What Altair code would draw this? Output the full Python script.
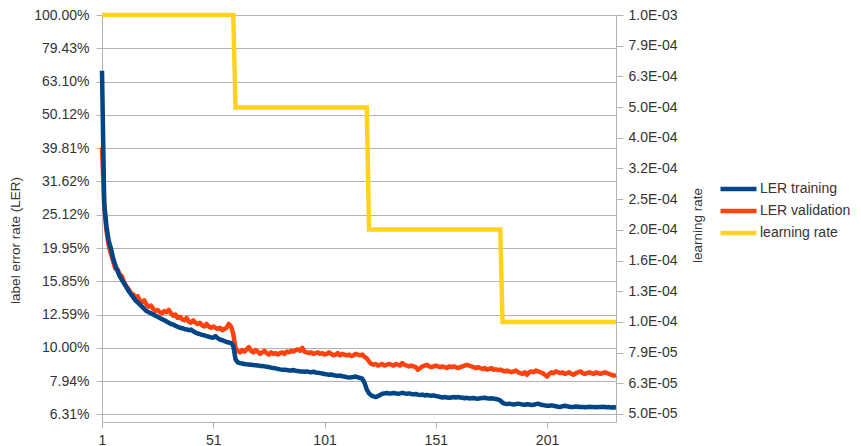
import altair as alt
import pandas as pd

# ---------------- data ----------------
train_pct = [
    68, 27, 23.2, 21.0, 19.9, 18.6, 17.7, 17.0, 16.4, 16.0,
    15.6, 15.2, 14.8, 14.5, 14.2, 13.9, 13.7, 13.5, 13.3, 13.1,
    12.9, 12.8, 12.7, 12.6, 12.5, 12.4, 12.3, 12.2, 12.1, 12.0,
    11.9, 11.8, 11.75, 11.65, 11.58, 11.5, 11.46, 11.4, 11.36, 11.3,
    11.35, 11.22, 11.12, 11.05, 11.0, 10.95, 10.9, 10.85, 10.8, 10.76,
    10.72, 10.85, 10.7, 10.6, 10.55, 10.48, 10.42, 10.38, 10.35, 10.15,
    9.25, 9.05, 9.0, 8.98, 8.95, 8.93, 8.92, 8.9, 8.88, 8.87,
    8.85, 8.83, 8.82, 8.8, 8.78, 8.76, 8.72, 8.7, 8.68, 8.65,
    8.62, 8.6, 8.6, 8.58, 8.56, 8.55, 8.58, 8.54, 8.52, 8.5,
    8.5, 8.48, 8.5, 8.47, 8.45, 8.48, 8.44, 8.42, 8.4, 8.38,
    8.35, 8.33, 8.3, 8.32, 8.28, 8.26, 8.24, 8.26, 8.22, 8.2,
    8.17, 8.15, 8.16, 8.18, 8.2, 8.16, 8.12, 8.08, 7.85, 7.5,
    7.3, 7.2, 7.15, 7.12, 7.16, 7.22, 7.28, 7.3, 7.32, 7.3,
    7.3, 7.32, 7.3, 7.28, 7.3, 7.33, 7.3, 7.28, 7.3, 7.27,
    7.25, 7.27, 7.24, 7.22, 7.24, 7.2, 7.22, 7.2, 7.18, 7.2,
    7.17, 7.15, 7.12, 7.1, 7.12, 7.1, 7.08, 7.1, 7.12, 7.1,
    7.12, 7.1, 7.08, 7.06, 7.08, 7.05, 7.06, 7.07, 7.05, 7.04,
    7.06, 7.07, 7.08, 7.06, 7.05, 7.06, 7.04, 7.02, 7.0, 6.95,
    6.85, 6.8, 6.78, 6.8, 6.78, 6.76, 6.78, 6.8, 6.78, 6.76,
    6.75, 6.77, 6.76, 6.74, 6.75, 6.78, 6.8, 6.76, 6.74, 6.72,
    6.7, 6.7, 6.72, 6.7, 6.68, 6.66, 6.65, 6.68, 6.7, 6.68,
    6.66, 6.64, 6.65, 6.67, 6.66, 6.64, 6.65, 6.63, 6.64, 6.66,
    6.65, 6.64, 6.63, 6.65, 6.64, 6.66, 6.65, 6.63, 6.64, 6.62, 6.63, 6.62,
]

valid_pct = [
    40, 27, 22.5, 20.3, 19.2, 18.2, 17.3, 17.2, 16.6, 16.4,
    15.7, 15.3, 15.0, 14.6, 14.5, 14.2, 14.3, 13.9, 13.7, 13.9,
    13.5, 13.3, 13.4, 13.1, 12.9, 13.0, 12.8, 12.7, 12.9, 12.8,
    13.0, 12.7, 12.5, 12.6, 12.3, 12.4, 12.2, 12.1, 12.3, 12.0,
    11.9, 12.1, 11.9, 11.8, 11.9, 11.7, 11.6, 11.8, 11.6, 11.5,
    11.6, 11.5, 11.4, 11.5, 11.3, 11.4, 11.5, 11.8, 11.6, 11.0,
    10.0, 9.8, 9.7, 9.85, 9.75, 9.9, 10.05, 9.8, 9.7, 9.85,
    9.75, 9.6, 9.7, 9.8, 9.65, 9.55, 9.7, 9.6, 9.65, 9.55,
    9.65, 9.7, 9.6, 9.75, 9.7, 9.8, 9.75, 9.85, 9.9, 9.8,
    10.0, 9.75, 9.7, 9.65, 9.7, 9.6, 9.65, 9.7, 9.6, 9.65,
    9.55, 9.6, 9.7, 9.6, 9.5, 9.55, 9.65, 9.5, 9.6, 9.55,
    9.5, 9.55, 9.45, 9.5, 9.6, 9.55, 9.5, 9.55, 9.4, 9.3,
    9.1, 8.95, 8.9, 8.95, 8.85, 8.9, 8.95, 8.85, 8.9, 8.95,
    8.9, 8.85, 8.95, 8.9, 8.85, 9.0, 8.9, 8.85, 8.8, 8.85,
    8.8, 8.75, 8.6, 8.7, 8.8, 8.85, 8.9, 8.8, 8.75, 8.8,
    8.85, 8.8, 8.75, 8.8, 8.75, 8.7, 8.8, 8.75, 8.8, 8.75,
    8.7, 8.75, 8.8, 8.85, 8.9, 8.85, 8.8, 8.75, 8.7, 8.75,
    8.7, 8.65, 8.7, 8.6, 8.65, 8.7, 8.6, 8.62, 8.58, 8.6,
    8.55, 8.5, 8.55, 8.5, 8.45, 8.5, 8.55, 8.45, 8.4, 8.35,
    8.45, 8.3, 8.45, 8.5, 8.45, 8.55, 8.5, 8.45, 8.4, 8.3,
    8.2, 8.35, 8.45, 8.4, 8.5, 8.45, 8.4, 8.45, 8.35, 8.4,
    8.45, 8.35, 8.3, 8.4, 8.45, 8.5, 8.4, 8.35, 8.4, 8.45,
    8.4, 8.35, 8.45, 8.4, 8.35, 8.4, 8.45, 8.4, 8.35, 8.3, 8.25, 8.3,
]

lr_epochs = [1, 60, 61, 120, 121, 180, 181, 232]
lr_values = [1.0e-3, 1.0e-3, 5.0e-4, 5.0e-4, 2.0e-4, 2.0e-4, 1.0e-4, 1.0e-4]

series_names = ["LER training", "LER validation", "learning rate"]
series_colors = ["#004586", "#ff420e", "#ffd320"]

x_ticks = [1, 51, 101, 151, 201]
ler_ticks = [1.0, 0.7943, 0.6310, 0.5012, 0.3981, 0.3162, 0.2512, 0.1995,
             0.1585, 0.1259, 0.1, 0.07943, 0.06310]
lr_ticks = [1.0e-3, 7.943e-4, 6.310e-4, 5.012e-4, 3.981e-4, 3.162e-4, 2.512e-4,
            1.995e-4, 1.585e-4, 1.259e-4, 1.0e-4, 7.943e-5, 6.310e-5, 5.012e-5]

# ---------------- tables ----------------
df_train = pd.DataFrame({
    "epoch": list(range(1, len(train_pct) + 1)),
    "value": [v / 100 for v in train_pct],
    "series": series_names[0],
})
df_valid = pd.DataFrame({
    "epoch": list(range(1, len(valid_pct) + 1)),
    "value": [v / 100 for v in valid_pct],
    "series": series_names[1],
})
df_lr = pd.DataFrame({"epoch": lr_epochs, "value": lr_values, "series": series_names[2]})

FONT = "Liberation Sans"
TXT = "#333333"
GRID = "#b3b3b3"
LW = 4.5

x_enc = alt.X(
    "epoch:Q",
    scale=alt.Scale(domain=[1, 232], nice=False, zero=False),
    axis=alt.Axis(values=x_ticks, format="d", title=None, grid=False, tickSize=6,
                  labelPadding=5, domainColor=GRID, tickColor=GRID, labelFontSize=14,
                  labelColor=TXT, labelFont=FONT, labelFlush=False, labelOverlap=False),
)

color_enc = alt.Color(
    "series:N",
    scale=alt.Scale(domain=series_names, range=series_colors),
    legend=alt.Legend(title=None, orient="none", legendX=616, legendY=166,
                      symbolType="stroke", symbolSize=1296, symbolStrokeWidth=LW,
                      labelFontSize=14, labelFont=FONT, labelColor=TXT, labelOffset=1,
                      clipHeight=16, rowPadding=6, padding=0),
)

y_ler = alt.Y(
    "value:Q",
    scale=alt.Scale(type="log", domain=[0.0599, 1.0], nice=False),
    axis=alt.Axis(orient="left", values=ler_ticks, format=".2%", grid=True, gridColor=GRID,
                  domainColor=GRID, tickColor=GRID, tickSize=6, labelPadding=7,
                  labelFontSize=14, labelFont=FONT, labelColor=TXT, labelFlush=False,
                  labelOverlap=False, title="label error rate (LER)", titleFont=FONT,
                  titleFontSize=13.5, titleFontWeight="normal", titleColor=TXT,
                  titleAngle=270, titleX=-87, titleY=225, titleAlign="center",
                  titleBaseline="middle"),
)

y_lr = alt.Y(
    "value:Q",
    scale=alt.Scale(type="log", domain=[4.72e-5, 1.0e-3], nice=False),
    axis=alt.Axis(orient="right", values=lr_ticks,
                  labelExpr="replace(format(datum.value, '.1e'), 'e-', 'E-0')",
                  grid=False, domainColor=GRID, tickColor=GRID, tickSize=7, labelPadding=5,
                  labelFontSize=14, labelFont=FONT, labelColor=TXT, labelFlush=False,
                  labelOverlap=False, title="learning rate", titleFont=FONT,
                  titleFontSize=13.5, titleFontWeight="normal", titleColor=TXT,
                  titleAngle=270, titleX=81, titleY=210, titleAlign="center",
                  titleBaseline="middle"),
)

valid_line = alt.Chart(df_valid).mark_line(strokeWidth=LW, strokeJoin="round").encode(
    x=x_enc, y=y_ler, color=color_enc)
train_line = alt.Chart(df_train).mark_line(strokeWidth=LW, strokeJoin="round").encode(
    x=x_enc, y=y_ler, color=color_enc)
lr_line = alt.Chart(df_lr).mark_line(strokeWidth=LW).encode(
    x=x_enc, y=y_lr, color=color_enc)

ler_layer = alt.layer(valid_line, train_line)

chart = (
    alt.layer(ler_layer, lr_line)
    .resolve_scale(y="independent")
    .properties(
        width=514,
        height=407,
        autosize=alt.AutoSizeParams(type="none"),
        padding={"left": 94, "top": 7, "right": 237, "bottom": 24},
        background="white",
    )
    .configure_view(stroke=None)
)

chart.save("out.html", embed_options={"renderer": "svg", "actions": False})
